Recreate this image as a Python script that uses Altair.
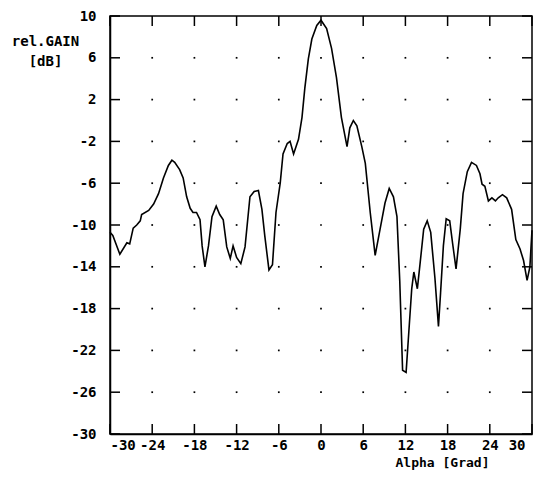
import altair as alt
import pandas as pd

alpha = [-30.0, -29.6, -28.6, -27.6, -27.2, -26.7, -26.2, -25.7, -25.5, -24.5,
         -23.8, -23.1, -22.4, -21.7, -21.2, -20.8, -20.1, -19.6, -19.1, -18.6,
         -18.2, -17.7, -17.2, -16.9, -16.5, -16.0, -15.5, -14.9, -14.4, -13.9,
         -13.4, -12.9, -12.5, -12.0, -11.4, -10.8, -10.1, -9.5, -8.9, -8.4,
         -8.0, -7.4, -6.9, -6.4, -5.8, -5.4, -4.8, -4.4, -3.9, -3.2,
         -2.7, -2.3, -1.8, -1.3, -0.6, 0.0, 0.8, 1.5, 2.2, 2.9,
         3.7, 4.1, 4.6, 5.1, 5.8, 6.3, 7.0, 7.7, 8.4, 9.1,
         9.7, 10.3, 10.8, 11.2, 11.6, 12.1, 12.4, 12.9, 13.2, 13.7,
         14.1, 14.6, 15.1, 15.6, 16.2, 16.7, 17.0, 17.4, 17.8, 18.3,
         18.7, 19.2, 19.8, 20.2, 20.8, 21.4, 22.1, 22.6, 22.9, 23.3,
         23.8, 24.3, 24.8, 25.2, 25.8, 26.4, 27.1, 27.7, 28.3, 28.8,
         29.3, 29.7, 30.0]
gain = [-10.7, -11.0, -12.8, -11.7, -11.8, -10.3, -10.0, -9.6, -9.0, -8.6,
        -8.0, -7.0, -5.5, -4.3, -3.8, -4.0, -4.7, -5.5, -7.3, -8.4,
        -8.8, -8.8, -9.5, -12.0, -14.0, -12.0, -9.2, -8.2, -9.0, -9.5,
        -12.1, -13.2, -12.0, -13.1, -13.7, -12.1, -7.3, -6.8, -6.7, -8.5,
        -11.0, -14.3, -13.8, -8.8, -6.0, -3.2, -2.2, -2.0, -3.2, -1.8,
        0.3, 3.1, 5.9, 7.8, 9.1, 9.6, 8.8, 6.9, 4.1, 0.3,
        -2.5, -0.7, 0.0, -0.5, -2.5, -4.1, -8.8, -12.9, -10.4, -7.9,
        -6.5, -7.3, -9.2, -15.4, -23.9, -24.1, -21.1, -16.1, -14.5, -16.1,
        -13.6, -10.4, -9.6, -10.7, -15.1, -19.7, -16.5, -12.0, -9.4, -9.6,
        -11.7, -14.2, -10.4, -7.0, -4.9, -4.0, -4.3, -5.1, -6.1, -6.3,
        -7.7, -7.4, -7.7, -7.4, -7.1, -7.4, -8.5, -11.4, -12.3, -13.4,
        -15.3, -14.0, -10.5]

x_ticks = [-30, -24, -18, -12, -6, 0, 6, 12, 18, 24, 30]
y_ticks = [-30, -26, -22, -18, -14, -10, -6, -2, 2, 6, 10]

X_MIN, X_MAX = x_ticks[0], x_ticks[-1]
Y_MIN, Y_MAX = y_ticks[0], y_ticks[-1]

FONT = "DejaVu Sans Mono"
LABEL_EXPR = "(datum.value < 0 ? '-' : '') + abs(datum.value)"

curve = pd.DataFrame({"alpha": alpha, "gain": gain})
dots = pd.DataFrame([{"alpha": a, "gain": g} for a in x_ticks[1:-1] for g in y_ticks[1:-1]])
left_t = pd.DataFrame({"alpha": [X_MIN] * len(y_ticks), "gain": y_ticks})
right_t = pd.DataFrame({"alpha": [X_MAX] * len(y_ticks), "gain": y_ticks})
top_t = pd.DataFrame({"alpha": x_ticks, "gain": [Y_MAX] * len(x_ticks)})
bot_t = pd.DataFrame({"alpha": x_ticks, "gain": [Y_MIN] * len(x_ticks)})

xscale = alt.Scale(domain=[X_MIN, X_MAX], nice=False, zero=False)
yscale = alt.Scale(domain=[Y_MIN, Y_MAX], nice=False, zero=False)

xax = alt.Axis(values=x_ticks, grid=False, ticks=False, tickSize=0, labelPadding=4,
               labelExpr=LABEL_EXPR,
               labelOffset={"condition": {"test": f"datum.value == {X_MAX}", "value": -7},
                            "value": 0},
               title="Alpha [Grad]", titleX=332, titleY=32, titleAlign="center",
               titleBaseline="alphabetic", titleFontSize=13,
               domainColor="black", domainWidth=1.5)
yax = alt.Axis(values=y_ticks, grid=False, ticks=False, tickSize=0, labelPadding=14,
               labelExpr=LABEL_EXPR,
               title=["rel.GAIN", "[dB]"], titleAngle=0, titleX=-65, titleY=18,
               titleAlign="center", titleBaseline="top", titleLineHeight=20,
               domainColor="black", domainWidth=1.5)

X = alt.X("alpha:Q", scale=xscale, axis=xax)
Y = alt.Y("gain:Q", scale=yscale, axis=yax)

line = alt.Chart(curve).mark_line(color="black", strokeWidth=1.6).encode(x=X, y=Y)
grid = alt.Chart(dots).mark_square(color="black", size=3, opacity=1).encode(
    x="alpha:Q", y="gain:Q")
lt = alt.Chart(left_t).mark_tick(color="black", orient="horizontal", size=10,
                                 xOffset=5, thickness=1.5, opacity=1).encode(x="alpha:Q", y="gain:Q")
rt = alt.Chart(right_t).mark_tick(color="black", orient="horizontal", size=10,
                                  xOffset=-5, thickness=1.5, opacity=1).encode(x="alpha:Q", y="gain:Q")
tt = alt.Chart(top_t).mark_tick(color="black", orient="vertical", size=10,
                                yOffset=5, thickness=1.5, opacity=1).encode(x="alpha:Q", y="gain:Q")
bt = alt.Chart(bot_t).mark_tick(color="black", orient="vertical", size=10,
                                yOffset=-5, thickness=1.5, opacity=1).encode(x="alpha:Q", y="gain:Q")

chart = alt.layer(grid, lt, rt, tt, bt, line).properties(
    width=422, height=418,
    autosize=alt.AutoSizeParams(type="none"),
    padding={"left": 102, "top": 8, "right": 2, "bottom": 36},
).configure_view(stroke="black", strokeWidth=1.5).configure_axis(
    labelFont=FONT, labelFontSize=14, labelFontWeight="bold", labelColor="black",
    titleFont=FONT, titleFontSize=14, titleFontWeight="bold", titleColor="black",
)

chart.save("out.html", embed_options={"renderer": "svg", "actions": False})
